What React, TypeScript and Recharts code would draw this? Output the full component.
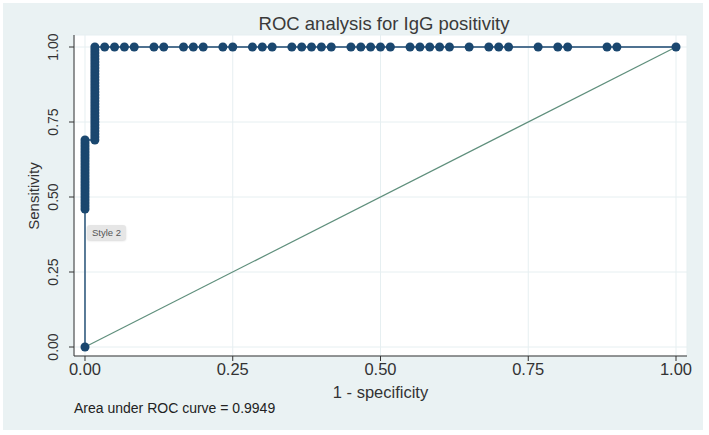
import { ComposedChart, Line, XAxis, YAxis, CartesianGrid, ReferenceLine } from 'recharts';

const axisTicks = [0, 0.25, 0.5, 0.75, 1];

// points stacked at 1 - specificity = 0 (first one is the origin)
const leftColumnSens = [
  0, 0.46, 0.47, 0.48, 0.49, 0.5, 0.51, 0.52, 0.53, 0.54, 0.55, 0.56, 0.57,
  0.58, 0.59, 0.6, 0.61, 0.62, 0.63, 0.64, 0.65, 0.66, 0.67, 0.68, 0.69,
];

// second column, one false positive in
const rightColumnFpr = 0.0167;
const rightColumnSens = [
  0.69, 0.7, 0.71, 0.72, 0.73, 0.74, 0.75, 0.76, 0.77, 0.78, 0.79, 0.8, 0.81,
  0.82, 0.83, 0.84, 0.85, 0.86, 0.87, 0.88, 0.89, 0.9, 0.91, 0.92, 0.93, 0.94,
  0.95, 0.96, 0.97, 0.98, 0.99, 1.0,
];

// points along sensitivity = 1
const topRowFpr = [
  0.0333, 0.05, 0.0667, 0.0833, 0.1167, 0.1333, 0.1667, 0.1833, 0.2, 0.2333,
  0.25, 0.2833, 0.3, 0.3167, 0.35, 0.3667, 0.3833, 0.4, 0.4167, 0.45, 0.4667,
  0.4833, 0.5, 0.5167, 0.55, 0.5667, 0.5833, 0.6, 0.6167, 0.65, 0.6833, 0.7,
  0.7167, 0.7667, 0.8, 0.8167, 0.8833, 0.9, 1.0,
];

const rocData = [
  ...leftColumnSens.map((s) => ({ fpr: 0, sens: s })),
  ...rightColumnSens.map((s) => ({ fpr: rightColumnFpr, sens: s })),
  ...topRowFpr.map((f) => ({ fpr: f, sens: 1 })),
];

const NAVY = '#1a476f';
const FONT = '"Liberation Sans", Arial, Helvetica, sans-serif';

function YTick(props: any) {
  const { x, y, payload } = props;
  const bx = x - 9.5;
  return (
    <text
      x={bx}
      y={y}
      transform={`rotate(-90 ${bx} ${y})`}
      textAnchor="middle"
      fontSize={14}
      fill="#333"
    >
      {Number(payload.value).toFixed(2)}
    </text>
  );
}

export default function App() {
  return (
    <div
      style={{
        position: 'absolute',
        left: 0,
        top: 0,
        width: 709,
        height: 435,
        background: '#fff',
        fontFamily: FONT,
      }}
    >
      <div
        style={{
          position: 'absolute',
          left: 3,
          top: 3,
          width: 700,
          height: 427,
          background: '#eaf2f3',
        }}
      />
      <div style={{ position: 'absolute', left: 0, top: 0 }}>
        <ComposedChart
          width={709}
          height={435}
          data={rocData}
          margin={{ top: 35, right: 22, bottom: 0, left: 0 }}
        >
          <CartesianGrid fill="#fff" stroke="#e6eff1" strokeWidth={1} />
          <XAxis
            type="number"
            dataKey="fpr"
            domain={[-0.0186, 1.0186]}
            ticks={axisTicks}
            allowDataOverflow
            height={79}
            stroke="#333"
            tickSize={5}
            tickMargin={2}
            tick={{ fontSize: 16.5, fill: '#333' }}
            tickFormatter={(v) => Number(v).toFixed(2)}
            label={(p: any) => {
              const vb = p.viewBox || { x: 74, width: 613 };
              return (
                <text
                  x={vb.x + vb.width / 2}
                  y={398}
                  textAnchor="middle"
                  fontSize={16.5}
                  fill="#333"
                >
                  1 - specificity
                </text>
              );
            }}
          />
          <YAxis
            type="number"
            dataKey="sens"
            domain={[-0.03, 1.04]}
            ticks={axisTicks}
            allowDataOverflow
            width={74}
            stroke="#333"
            tickSize={5}
            tickMargin={2}
            tick={<YTick />}
            label={() => (
              <text
                x={39}
                y={196}
                transform="rotate(-90 39 196)"
                textAnchor="middle"
                fontSize={15}
                fill="#333"
              >
                Sensitivity
              </text>
            )}
          />
          <ReferenceLine
            segment={[
              { x: 0, y: 0 },
              { x: 1, y: 1 },
            ]}
            stroke="#5f8f7c"
            strokeWidth={1.2}
          />
          <Line
            type="linear"
            dataKey="sens"
            stroke={NAVY}
            strokeWidth={1.4}
            dot={{ r: 4.5, fill: NAVY, stroke: 'none' }}
            activeDot={false}
            isAnimationActive={false}
          />
        </ComposedChart>
      </div>
      <svg
        width={709}
        height={435}
        style={{ position: 'absolute', left: 0, top: 0, pointerEvents: 'none' }}
      >
        <text x={384} y={30} textAnchor="middle" fontSize={18.5} fill="#3a3a3a" fontFamily={FONT}>
          ROC analysis for IgG positivity
        </text>
        <text x={74} y={413} fontSize={14} fill="#222" fontFamily={FONT}>
          Area under ROC curve = 0.9949
        </text>
      </svg>
      <div
        style={{
          position: 'absolute',
          left: 87,
          top: 225,
          width: 39,
          height: 15,
          background: '#e6e6e6',
          borderRadius: 3,
          boxShadow: '0 1px 2px rgba(0,0,0,0.15)',
          fontSize: 9.5,
          lineHeight: '15px',
          textAlign: 'center',
          color: '#555',
        }}
      >
        Style 2
      </div>
    </div>
  );
}
